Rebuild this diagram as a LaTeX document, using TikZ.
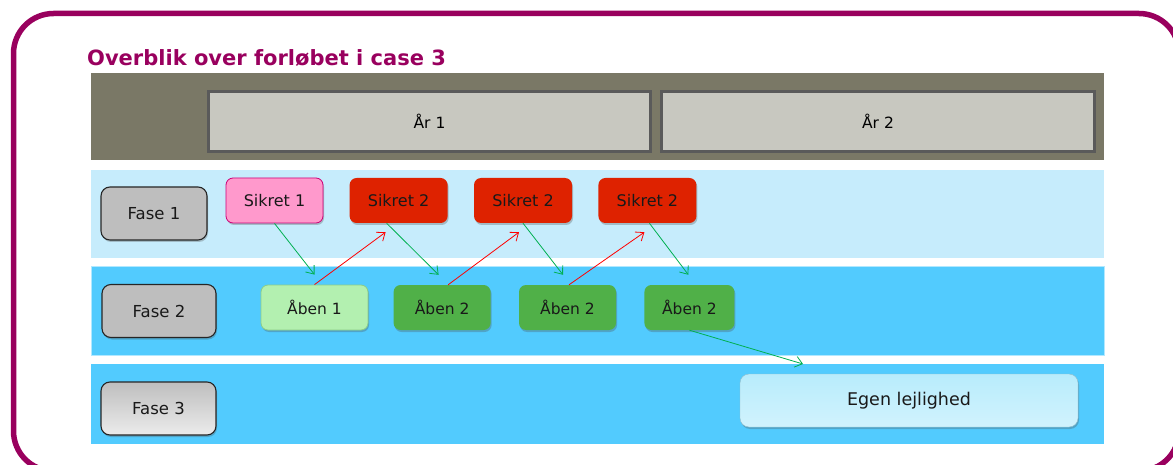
\documentclass[tikz,border=0pt]{standalone}
\usepackage{fontspec}
\setmainfont{DejaVu Sans}
\usepackage{xcolor}
\usetikzlibrary{arrows.meta, positioning, shadows}
\definecolor{caseviolet}{RGB}{153,0,94}
\definecolor{hdrgray}{RGB}{122,120,102}
\definecolor{yeargray}{RGB}{200,200,192}
\definecolor{yearline}{RGB}{90,90,90}
\definecolor{fase1blue}{RGB}{198,236,252}
\definecolor{fase2blue}{RGB}{82,203,254}
\definecolor{fasegray}{RGB}{190,190,190}
\definecolor{sikretpink}{RGB}{255,153,204}
\definecolor{sikretline}{RGB}{204,0,119}
\definecolor{sikretred}{RGB}{222,34,0}
\definecolor{abenlight}{RGB}{179,240,176}
\definecolor{abenline}{RGB}{140,204,136}
\definecolor{abengreen}{RGB}{80,176,72}
\definecolor{egenblue}{RGB}{184,236,252}
\definecolor{arrowgreen}{RGB}{0,176,80}
\definecolor{arrowred}{RGB}{255,0,0}
\tikzstyle{band} = [rectangle, minimum width=1013pt, inner sep=0pt]
\tikzstyle{year} = [rectangle, minimum width=442pt, minimum height=60pt, inner sep=0pt, draw=yearline, line width=3pt, fill=yeargray, font=\fontsize{15.5}{18}\selectfont]
\tikzstyle{softshadow} = [drop shadow={shadow xshift=1pt, shadow yshift=-2pt, opacity=0.3, fill=black!70}]
\tikzstyle{fase} = [rectangle, rounded corners=9pt, minimum height=53pt, inner sep=0pt, draw=black!85, line width=1.1pt, fill=fasegray, text=black!90, font=\fontsize{16.5}{19}\selectfont, softshadow]
\tikzstyle{sikret} = [rectangle, rounded corners=7pt, minimum width=98pt, minimum height=45pt, inner sep=0pt, fill=sikretred, text=black!90, font=\fontsize{16}{19}\selectfont, softshadow]
\tikzstyle{aben} = [rectangle, rounded corners=7pt, minimum width=97pt, minimum height=45pt, inner sep=0pt, fill=abengreen, text=black!90, font=\fontsize{15.5}{18}\selectfont, softshadow]
\tikzstyle{egen} = [rectangle, rounded corners=9pt, minimum width=338pt, minimum height=53pt, inner sep=0pt, draw=egenblue!80!black, line width=0.4pt, top color=egenblue, middle color=egenblue, bottom color=egenblue!65!white, text=black!90, font=\fontsize{17.5}{20}\selectfont, softshadow]
\tikzstyle{greenarrow} = [draw=arrowgreen, line width=0.8pt, -{Straight Barb[length=7pt,width=11pt]}]
\tikzstyle{redarrow} = [draw=arrowred, line width=0.8pt, -{Straight Barb[length=7pt,width=11pt]}]
\begin{document}
\begin{tikzpicture}[x=1pt, y=-1pt, node distance=26pt]
		\useasboundingbox (0,0) rectangle (1173,465);
		\clip (0,0) rectangle (1173,465);
		% outer frame
		\draw [caseviolet, line width=5.5pt, rounded corners=40pt] (13.5,13.5) rectangle (1179,471);
		\node (title) [anchor=base west, inner sep=0pt, text=caseviolet, font=\fontsize{21}{25}\selectfont\bfseries] at (87,66) {Overblik over forløbet i case 3};

		% bands
		\node (hdr) [band, fill=hdrgray, minimum height=87pt] at (597.5,116.5) {};
		\node (band1) [band, fill=fase1blue, minimum height=88pt] at (597.5,214) {};
		\node (band2) [band, fill=fase2blue, draw=fase2blue!45!white, line width=1pt, minimum height=88pt] at (597.5,311) {};
		\node (band3) [band, fill=fase2blue, minimum height=80pt] at (597.5,404) {};

		\node (aar1) [year] at (429.5,121.5) {År 1};
		\node (aar2) [year, minimum width=433pt] at (878,121.5) {År 2};

		\node (fase1) [fase, minimum width=106pt] at (154,213.5) {Fase 1};
		\node (fase2) [fase, minimum width=114pt] at (159,311) {Fase 2};
		\node (fase3) [fase, minimum width=115pt, top color=fasegray, middle color=fasegray, bottom color=gray!15] at (158.5,408.5) {Fase 3};

		\node (s1) [sikret, minimum width=97pt, fill=sikretpink, draw=sikretline, line width=0.8pt] at (274.5,200.5) {Sikret 1};
		\node (s2a) [sikret, right=of s1] {Sikret 2};
		\node (s2b) [sikret, right=of s2a] {Sikret 2};
		\node (s2c) [sikret, right=of s2b] {Sikret 2};

		\node (a1) [aben, minimum width=107pt, fill=abenlight, draw=abenline, line width=0.8pt] at (314.5,307.5) {Åben 1};
		\node (a2a) [aben, right=25pt of a1] {Åben 2};
		\node (a2b) [aben, right=28pt of a2a] {Åben 2};
		\node (a2c) [aben, minimum width=90pt, right=28pt of a2b] {Åben 2};

		\node (egen) [egen] at (909,400.5) {Egen lejlighed};
		\coordinate (egenin) at (803,364);

		\draw [greenarrow] (s1.south) -- ([yshift=10pt]a1.north);
		\draw [redarrow] (a1.north) -- ([xshift=-13pt,yshift=-9pt]s2a.south);
		\draw [greenarrow] ([xshift=-12pt]s2a.south) -- ([xshift=-3.5pt,yshift=10pt]a2a.north);
		\draw [redarrow] ([xshift=6pt]a2a.north) -- ([xshift=-4pt,yshift=-9pt]s2b.south);
		\draw [greenarrow] (s2b.south) -- ([xshift=-4.5pt,yshift=10pt]a2b.north);
		\draw [redarrow] ([xshift=1.5pt]a2b.north) -- ([xshift=-3pt,yshift=-9pt]s2c.south);
		\draw [greenarrow] ([xshift=2pt]s2c.south) -- ([xshift=-1pt,yshift=10pt]a2c.north);
		\draw [greenarrow] (a2c.south) -- (egenin);
\end{tikzpicture}
\end{document}
